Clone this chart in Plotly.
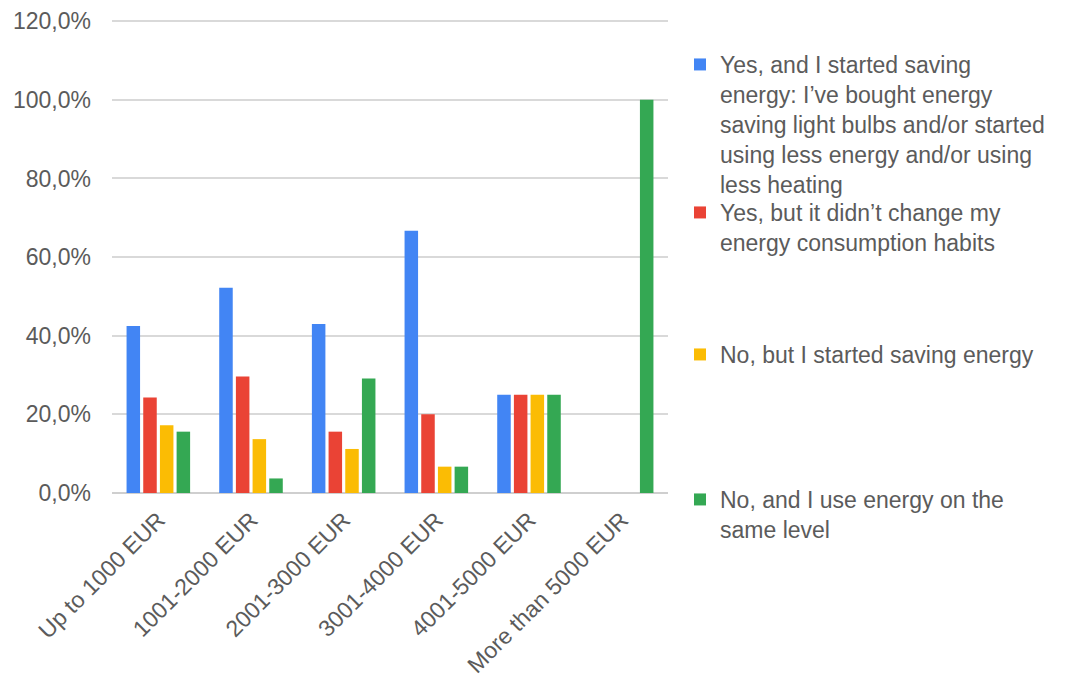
import plotly.graph_objects as go

categories = ["Up to 1000 EUR", "1001-2000 EUR", "2001-3000 EUR",
              "3001-4000 EUR", "4001-5000 EUR", "More than 5000 EUR"]

series_names = [
    "Yes, and I started saving<br>energy: I’ve bought energy<br>saving light bulbs and/or started<br>using less energy and/or using<br>less heating",
    "Yes, but it didn’t change my<br>energy consumption habits",
    "No, but I started saving energy",
    "No, and I use energy on the<br>same level",
]

yes_saving = [42.5, 52.2, 43.0, 66.7, 25.0, 0.0]
yes_no_change = [24.3, 29.6, 15.6, 20.0, 25.0, 0.0]
no_but_saving = [17.2, 13.7, 11.2, 6.7, 25.0, 0.0]
no_same = [15.6, 3.7, 29.1, 6.7, 25.0, 100.0]

y_tick_values = [0, 20, 40, 60, 80, 100, 120]
y_tick_labels = ["0,0%", "20,0%", "40,0%", "60,0%", "80,0%", "100,0%", "120,0%"]

colors = ["#4285F4", "#EA4335", "#FBBC04", "#34A853"]
values = [yes_saving, yes_no_change, no_but_saving, no_same]
legend_ids = ["legend", "legend2", "legend3", "legend4"]

FONT = "Liberation Sans, Arial, sans-serif"
TXT = "#5b5b5b"

fig = go.Figure()
for name, vals, col, lg in zip(series_names, values, colors, legend_ids):
    fig.add_trace(go.Bar(
        x=categories, y=vals, name=name, legend=lg, showlegend=True,
        marker=dict(color=col, line=dict(width=0)),
    ))

W, H = 1065, 682
OFF = 8  # page body margin
left, right, top, bottom = 112 - OFF, 668 - OFF, 20 - OFF, 493 - OFF

def ypaper(px):
    return (bottom - (px - OFF)) / (bottom - top)

def xpaper(px):
    return ((px - OFF) - left) / (right - left)

leg_common = dict(x=xpaper(680), xanchor="left", yanchor="top", valign="top",
                  font=dict(family=FONT, size=23, color=TXT),
                  bgcolor="rgba(0,0,0,0)", itemwidth=30)

fig.update_layout(
    width=W, height=H,
    margin=dict(l=left, r=W - right, t=top, b=H - bottom, pad=0, autoexpand=False),
    paper_bgcolor="white", plot_bgcolor="white",
    showlegend=True,
    barmode="group", bargap=0.28, bargroupgap=0.19,
    font=dict(family=FONT, size=23, color=TXT),
    legend=dict(**leg_common, y=ypaper(43)),
    legend2=dict(**leg_common, y=ypaper(191)),
    legend3=dict(**leg_common, y=ypaper(333)),
    legend4=dict(**leg_common, y=ypaper(478)),
    xaxis=dict(tickangle=-45, showgrid=False, showline=False, ticks="",
               automargin=False, ticklabelstandoff=8,
               tickfont=dict(family=FONT, size=23, color=TXT)),
    yaxis=dict(range=[0, 120.3], tickmode="array", tickvals=y_tick_values,
               ticktext=y_tick_labels,
               showgrid=True, gridcolor="#d9d9d9", gridwidth=1.5,
               zeroline=True, zerolinecolor="#cfcfcf", zerolinewidth=2,
               showline=False, ticks="", ticklabelstandoff=20, automargin=False,
               tickfont=dict(family=FONT, size=23, color=TXT)),
)

fig.write_html("out.html")
